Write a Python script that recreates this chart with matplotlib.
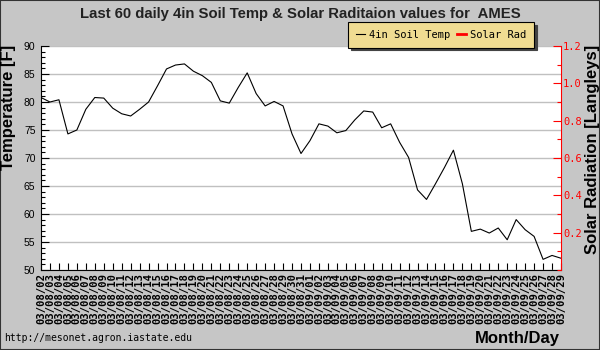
import matplotlib
matplotlib.use('Agg')
import matplotlib.pyplot as plt
from matplotlib.ticker import MultipleLocator, FixedLocator
from matplotlib.patches import Rectangle
import datetime as dt

# ------------------------------------------------------------------
# Data (Aug 2 - Sep 29, 2003)
# ------------------------------------------------------------------
start_day = dt.date(2003, 8, 2)
n_days = 59
dates = [start_day + dt.timedelta(days=i) for i in range(n_days)]
date_labels = [d.strftime('%y/%m/%d') for d in dates]

soil_temp = [80.8, 80.0, 80.4, 74.3, 75.0, 78.7, 80.8, 80.7, 78.9, 77.9,
             77.5, 78.7, 80.0, 82.9, 85.9, 86.6, 86.8, 85.5, 84.7, 83.5,
             80.2, 79.8, 82.6, 85.2, 81.5, 79.3, 80.1, 79.3, 74.3, 70.8,
             73.1, 76.1, 75.7, 74.5, 74.9, 76.8, 78.4, 78.2, 75.4, 76.1,
             72.8, 70.1, 64.3, 62.6, 65.4, 68.3, 71.4, 65.4, 56.9, 57.3,
             56.6, 57.5, 55.4, 59.0, 57.2, 56.0, 51.9, 52.6, 52.1]

# solar radiation has no values plotted in this period
solar_rad = []

rad_ticks = [0.2, 0.4, 0.6, 0.8, 1.0, 1.2]

bg = '#c6c6c6'
sans = 'Liberation Sans'
mono = 'DejaVu Sans Mono'

fig = plt.figure(figsize=(6, 3.5), dpi=100, facecolor=bg)
ax = fig.add_axes([41/600, 1 - 270/350, 520/600, 224/350])
ax.set_facecolor('white')

x = list(range(n_days))
line1, = ax.plot(x, soil_temp, color='black', lw=0.8, label='4in Soil Temp')

ax.set_xlim(0, n_days - 1)
ax.set_ylim(50, 90)
ax.yaxis.set_major_locator(MultipleLocator(5))
ax.yaxis.set_minor_locator(MultipleLocator(1))
ax.grid(axis='y', color='#c0c0c0', lw=1)
ax.set_axisbelow(True)

ax.set_xticks(x)
ax.set_xticklabels(date_labels, rotation=90, family=mono,
                   fontsize=7.6, fontweight='bold')
ax.tick_params(axis='x', direction='in', length=5, pad=2, width=0.8)
ax.tick_params(axis='y', which='major', direction='in', length=6, labelsize=7.5,
               pad=4, width=0.8)
ax.tick_params(axis='y', which='minor', direction='in', length=3, width=0.8)
for lab in ax.get_yticklabels():
    lab.set_family(sans)

ax.spines['top'].set_visible(False)
ax.spines['right'].set_visible(False)

# right axis for solar radiation
ax2 = ax.twinx()
line2, = ax2.plot(solar_rad, solar_rad, color='red', lw=2, label='Solar Rad')
ax2.set_ylim(0, 1.2)
ax2.yaxis.set_major_locator(FixedLocator(rad_ticks))
ax2.yaxis.set_minor_locator(MultipleLocator(0.1))
ax2.set_yticklabels(['%.1f' % t for t in rad_ticks], family=mono, fontsize=7.5, color='red')
ax2.tick_params(axis='y', which='major', direction='in', length=6, colors='red',
                pad=1.5, width=0.8)
ax2.tick_params(axis='y', which='minor', direction='in', length=3, colors='red',
                width=0.8)
ax2.spines['right'].set_color('red')
ax2.spines['top'].set_visible(False)
ax2.spines['left'].set_visible(False)
ax2.spines['bottom'].set_visible(False)

# titles and labels (axis titles are aligned to the high end, like the original)
fig.text(0.5, 1 - 14/350, 'Last 60 daily 4in Soil Temp & Solar Raditaion values for  AMES',
         ha='center', va='center', fontsize=10.7, fontweight='bold', color='#222222',
         family=sans)
fig.text(9/600, 1 - 45/350, 'Temperature [F]', rotation=90, ha='center', va='top',
         fontsize=12, fontweight='bold', family=sans)
fig.text(592/600, 1 - 45/350, 'Solar Radiation [Langleys]', rotation=90, ha='center',
         va='top', fontsize=12, fontweight='bold', family=sans)
fig.text(560/600, 1 - 339/350, 'Month/Day', ha='right', va='center',
         fontsize=12, fontweight='bold', family=sans)
fig.text(4/600, 1 - 338/350, 'http://mesonet.agron.iastate.edu', ha='left', va='center',
         family=mono, fontsize=7)

leg = fig.legend(handles=[line1, line2], loc='upper left', ncol=2,
                 bbox_to_anchor=(348/600, 1 - 22/350), prop={'family': mono, 'size': 7.5},
                 handlelength=0.9, handletextpad=0.4, columnspacing=0.6,
                 borderpad=0.75, fancybox=False, shadow={'color': '#444444', 'alpha': 1},
                 framealpha=1, facecolor='#f0dc92', edgecolor='black',
                 borderaxespad=0)
leg.get_frame().set_linewidth(0.8)

# dark frame around the whole image
fig.patches.append(Rectangle((0, 0), 1, 1, transform=fig.transFigure, fill=False,
                             edgecolor='#333333', lw=1.5))

fig.savefig('out.png', dpi=100, facecolor=bg)
